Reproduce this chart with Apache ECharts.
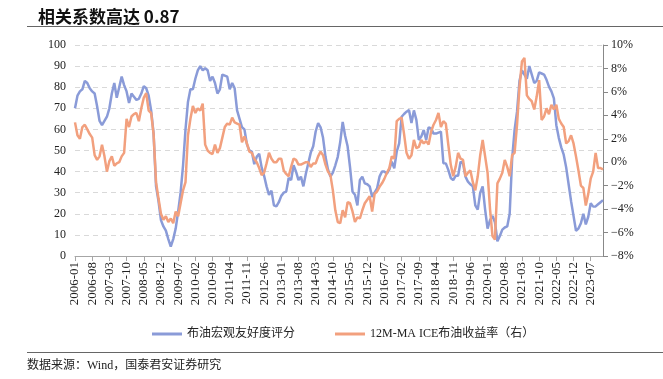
<!DOCTYPE html>
<html>
<head>
<meta charset="utf-8">
<script src="https://cdn.jsdelivr.net/npm/echarts@6/dist/echarts.min.js"></script>
<style>
  html, body { margin: 0; padding: 0; background: #fff; }
  #chart { width: 663px; height: 379px; }
</style>
</head>
<body>
<div id="chart"></div>
<script>
// months 2006-01 .. 2023-12
var months = [];
for (var y = 2006; y <= 2023; y++) {
  for (var m = 1; m <= 12; m++) {
    months.push(y + '-' + (m < 10 ? '0' + m : m));
  }
}

// 布油宏观友好度评分 (left axis)
var score = [
  70, 76, 78, 79, 83, 82, 79.5, 78, 77, 71,
  64, 62, 64, 66, 70, 77, 82, 75, 80, 85,
  81, 78, 72.5, 77, 75.5, 74, 74.5, 77, 80.5, 79.5,
  76, 69, 58, 33, 26, 17, 14, 12, 8, 4.5,
  8, 13, 21, 30, 43, 60, 73, 79, 79, 84,
  88, 90, 88, 89, 88, 83, 85, 82, 77, 79,
  86, 85.5, 85, 79, 82, 79.5, 69, 65, 61, 60,
  53, 50, 49.5, 43.5, 47, 48.5, 42, 38, 33, 29,
  31, 24, 23.5, 25.5, 28.5, 30, 30.5, 37, 36, 43,
  40, 36, 37.6, 33, 39, 44, 49, 52, 59, 63,
  61, 56, 47, 41, 37.6, 39.5, 43, 47, 54, 63.5,
  57, 52, 42, 30.5, 29, 24, 36, 37.6, 34.4, 34,
  33, 28, 30, 32, 37.6, 40, 40, 39, 41, 44.7,
  41.5, 49.4, 53.4, 66, 67.3, 68.4, 69.2, 63, 69, 64.5,
  55, 56.6, 59.7, 55, 61, 60.5, 58, 58, 58.5, 58.9,
  44, 43.9, 40.8, 37, 36, 38, 38, 44.7, 43.9, 37.6,
  35.2, 34, 33, 24, 22, 30, 33, 22, 13, 17,
  19, 16, 7, 9.5, 12.5, 13.5, 14, 20, 46, 59.7,
  68.4, 83, 88, 86, 84, 90, 86, 82, 83, 87,
  86.5, 86, 83.5, 80.3, 78, 74.7, 62, 56, 51.5, 48,
  42, 34, 26, 19, 12, 13, 15.5, 20, 15, 18.6,
  25, 23.4, 23.5, 24.5, 25.5, 26.5
];

// 12M-MA ICE布油收益率 (right axis, %)
var ret = [
  3.4, 2.3, 2.0, 3.0, 3.2, 2.8, 2.4, 2.1, 0.6, 0.2,
  0.5, 1.5, 0.5, -0.8, 0.1, 0.5, -0.3, -0.1, 0.0, 0.5,
  0.8, 3.7, 3.0, 3.9, 4.1, 4.2, 3.5, 4.6, 5.5, 5.9,
  4.4, 4.2, 2.4, -1.7, -3.1, -4.4, -4.9, -4.6, -5.1, -4.8,
  -5.2, -4.2, -4.6, -3.5, -2.4, -1.7, 2.3, 3.7, 4.8, 4.2,
  4.6, 4.4, 5.0, 1.5, 1.0, 0.8, 0.7, 1.5, 0.8, 1.2,
  2.1, 3.0, 3.3, 3.2, 3.8, 3.4, 3.3, 3.2, 1.7, 2.2,
  1.6, 0.9, 0.8, 0.3, 0.0, -0.5, -1.1, -0.9, -0.1, 0.8,
  0.3, 0.0, 0.0, 0.3, 0.3, -0.7, -1.0, -1.2, -0.4, 0.3,
  0.2, -0.2, -0.2, -0.1, 0.0, 0.0, -0.4, -0.1, -0.1, 0.5,
  0.9, 0.6, -0.2, -0.8, -1.1, -2.4, -4.1, -5.1, -5.2, -4.1,
  -4.7, -3.4, -3.5, -4.2, -5.1, -4.7, -4.8, -4.1, -3.5, -3.2,
  -2.9, -4.2, -2.7, -2.5, -2.1, -1.8, -1.4, -0.9, -0.5, 0.5,
  0.3, 3.5, 3.7, 3.8, 2.4, 0.8, 0.3, 0.6, 1.9, 1.2,
  1.3, 1.9, 1.6, 1.8, 1.5, 2.6, 3.2, 3.6, 4.2, 3.0,
  3.5, 3.3, 1.5, -0.2, -1.2, -0.4, 0.8, 0.3, 0.2, -1.2,
  -0.9, -0.7, -1.7, -2.4, -1.2, 0.6, 1.9, 0.5, -0.9, -4.0,
  -6.3, -6.6, -1.8, -1.4, -0.9, 0.2, -0.4, -1.2, 0.6, 0.8,
  3.2, 6.4, 8.6, 8.9, 5.7, 5.4, 5.2, 4.5, 5.6, 7.0,
  3.6, 3.9, 4.6, 4.1, 4.9, 4.5, 4.9, 3.7, 3.3, 3.0,
  1.6, 1.8, 2.3, 1.6, 0.5, -0.7, -2.0, -2.2, -3.7, -2.7,
  -1.4, -0.8, 0.8, -0.5, -0.5, -0.6
];

var seriesNames = ['布油宏观友好度评分', '12M-MA ICE布油收益率（右）'];

var blue = '#8a9bd8';
var orange = '#f2a07e';
var axisGrey = '#a6a6a6';
var labelFont = 'Liberation Serif, Noto Sans CJK SC, serif';

var chart = echarts.init(document.getElementById('chart'), null, { renderer: 'canvas' });
chart.setOption({
  animation: false,
  backgroundColor: '#fff',
  title: {
    text: '相关系数高达 0.87',
    left: 33,
    top: 3,
    textStyle: { fontSize: 17, fontWeight: 'bold', color: '#111', fontFamily: 'Noto Sans CJK SC' }
  },
  graphic: [
    { type: 'line', shape: { x1: 27, y1: 26.5, x2: 663, y2: 26.5 }, style: { stroke: '#666', lineWidth: 1 } },
    { type: 'line', shape: { x1: 27, y1: 352.5, x2: 663, y2: 352.5 }, style: { stroke: '#666', lineWidth: 1 } },
    {
      type: 'text', left: 27, top: 360,
      style: { text: '数据来源：Wind，国泰君安证券研究', fontSize: 12, fill: '#222', fontFamily: labelFont }
    }
  ],
  legend: {
    data: seriesNames,
    left: 147,
    top: 323,
    icon: 'rect',
    itemWidth: 30,
    itemHeight: 3,
    itemGap: 40,
    textStyle: { fontSize: 12, color: '#222', fontFamily: labelFont }
  },
  grid: { left: 75, right: 60, top: 45, bottom: 123 },
  xAxis: {
    type: 'category',
    data: months,
    boundaryGap: false,
    axisLine: { lineStyle: { color: axisGrey } },
    axisTick: { show: true, interval: 6, length: 5, lineStyle: { color: axisGrey } },
    axisLabel: { rotate: 90, interval: 6, fontSize: 13, color: '#222', margin: 6, fontFamily: labelFont },
    splitLine: { show: false }
  },
  yAxis: [
    {
      type: 'value',
      min: 0,
      max: 100,
      interval: 10,
      axisLine: { show: false },
      axisTick: { show: false },
      axisLabel: { fontSize: 12, color: '#222', margin: 9, fontFamily: labelFont },
      splitLine: { lineStyle: { color: '#d9d9d9', type: [5, 4] } }
    },
    {
      type: 'value',
      min: -8,
      max: 10,
      interval: 2,
      position: 'right',
      axisLine: { show: true, lineStyle: { color: '#888' } },
      axisTick: { show: true, length: 5, lineStyle: { color: '#888' } },
      axisLabel: {
        fontSize: 12, color: '#222', margin: 8, fontFamily: labelFont,
        formatter: function (v) { return String(v).replace('-', '−') + '%'; }
      },
      splitLine: { show: false }
    }
  ],
  series: [
    {
      name: seriesNames[0],
      type: 'line',
      data: score,
      yAxisIndex: 0,
      showSymbol: false,
      itemStyle: { color: blue },
      lineStyle: { color: blue, width: 2.5 }
    },
    {
      name: seriesNames[1],
      type: 'line',
      data: ret,
      yAxisIndex: 1,
      showSymbol: false,
      itemStyle: { color: orange },
      lineStyle: { color: orange, width: 2.5 }
    }
  ]
});
</script>
</body>
</html>
